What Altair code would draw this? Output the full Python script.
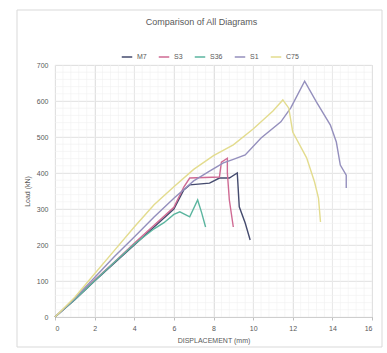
import altair as alt
import pandas as pd

# ---- data ----
series_names = ["M7", "S3", "S36", "S1", "C75"]
series_colors = ["#454b6e", "#cf6a93", "#5bb59f", "#948fbd", "#e3dc8e"]

m7_x = [0, 1, 2, 3, 4, 5, 6, 6.5, 6.8, 7.8, 8.3, 8.8, 9.2, 9.3, 9.6, 9.85]
m7_y = [0, 48, 100, 150, 200, 250, 300, 353, 367, 372, 386, 386, 400, 306, 261, 214]

s3_x = [0, 1, 2, 3, 4, 5, 6, 6.5, 6.8, 8.3, 8.4, 8.7, 8.7, 8.8, 9.0]
s3_y = [0, 50, 103, 153, 205, 255, 305, 361, 386, 389, 430, 441, 400, 325, 250]

s36_x = [0, 1, 2, 3, 4, 5, 5.5, 6.0, 6.3, 6.8, 7.2, 7.4, 7.6]
s36_y = [0, 49, 101, 152, 202, 245, 262, 285, 292, 278, 325, 290, 250]

s1_x = [0, 1, 2, 3, 4, 5, 6, 7, 7.8, 8.5, 9.0, 9.6, 10.4, 11.4, 11.9, 12.6, 13.2, 13.9, 14.2, 14.4, 14.7, 14.7]
s1_y = [0, 52, 110, 168, 222, 278, 330, 378, 405, 428, 438, 450, 497, 542, 581, 655, 597, 533, 486, 422, 394, 358]

c75_x = [0, 1, 2, 3, 4, 5, 6, 7, 8, 9, 10, 11, 11.5, 11.8, 12.0, 12.7, 13.1, 13.3, 13.4]
c75_y = [0, 55, 120, 185, 250, 312, 362, 410, 448, 478, 522, 572, 603, 580, 514, 442, 375, 330, 264]

x_ticks = [0, 2, 4, 6, 8, 10, 12, 14, 16]
y_ticks = [0, 100, 200, 300, 400, 500, 600, 700]
x_minor = [round(i * 0.4, 1) for i in range(41)]
y_minor = [i * 20 for i in range(36)]

rows = []
for name, xs, ys in zip(series_names,
                        [m7_x, s3_x, s36_x, s1_x, c75_x],
                        [m7_y, s3_y, s36_y, s1_y, c75_y]):
    for i, (xv, yv) in enumerate(zip(xs, ys)):
        rows.append({"series": name, "order": i, "x": xv, "y": yv})
df = pd.DataFrame(rows)

FONT = "Liberation Sans"
xscale = alt.Scale(domain=[0, 16], nice=False, zero=False)
yscale = alt.Scale(domain=[0, 700], nice=False)

xaxis = alt.Axis(values=x_ticks, title="DISPLACEMENT (mm)", grid=True,
                 gridColor="#d9d9d9", gridWidth=0.8,
                 domainColor="#bfbfbf", tickColor="#bfbfbf", tickSize=3,
                 labelFontSize=7, labelColor="#595959", labelPadding=4,
                 titleFontSize=7, titleColor="#595959", titleFontWeight="normal",
                 titlePadding=5, labelFont=FONT, titleFont=FONT)
yaxis = alt.Axis(values=y_ticks, title="Load (kN)", grid=True,
                 gridColor="#d9d9d9", gridWidth=0.8, domain=False, ticks=False,
                 labelFontSize=7, labelColor="#595959", labelPadding=7,
                 titleFontSize=7, titleColor="#595959", titleFontWeight="normal",
                 titlePadding=6, labelFont=FONT, titleFont=FONT)

minor = alt.Chart(pd.DataFrame({"x": x_minor})).mark_rule(color="#f0f0f0", strokeWidth=0.6).encode(
    x=alt.X("x:Q", scale=xscale, axis=xaxis)
)
minor_y = alt.Chart(pd.DataFrame({"y": y_minor})).mark_rule(color="#f0f0f0", strokeWidth=0.6).encode(
    y=alt.Y("y:Q", scale=yscale, axis=yaxis)
)

lines = alt.Chart(df).mark_line(strokeWidth=1.4).encode(
    x=alt.X("x:Q", scale=xscale, axis=xaxis),
    y=alt.Y("y:Q", scale=yscale, axis=yaxis),
    color=alt.Color("series:N",
                    scale=alt.Scale(domain=series_names, range=series_colors),
                    sort=series_names,
                    legend=alt.Legend(title=None, orient="none", direction="horizontal",
                                      legendX=66, legendY=-14, symbolType="stroke",
                                      symbolStrokeWidth=1.5, symbolSize=110,
                                      labelFontSize=7, labelColor="#595959", labelFont=FONT,
                                      columnPadding=8)),
    order="order:Q",
    strokeWidth=alt.condition(alt.datum.series == "C75", alt.value(2.4), alt.value(1.4)),
)

frame = alt.Chart(pd.DataFrame({"a": [0]})).mark_rect(filled=False, stroke="#d9d9d9", strokeWidth=1).encode(
    x=alt.value(-38), x2=alt.value(327), y=alt.value(-55), y2=alt.value(282)
)

chart = alt.layer(minor, minor_y, lines, frame).properties(
    width=317, height=252,
    title=alt.TitleParams("Comparison of All Diagrams", fontSize=9, font=FONT,
                          fontWeight="normal", color="#595959", offset=-17, dx=-12),
    autosize=alt.AutoSizeParams(type="none"),
    padding={"left": 55, "top": 65, "right": 15, "bottom": 36},
).configure_view(stroke=None).configure(background="white")

chart.save("out.html", embed_options={"renderer": "svg", "actions": False})
